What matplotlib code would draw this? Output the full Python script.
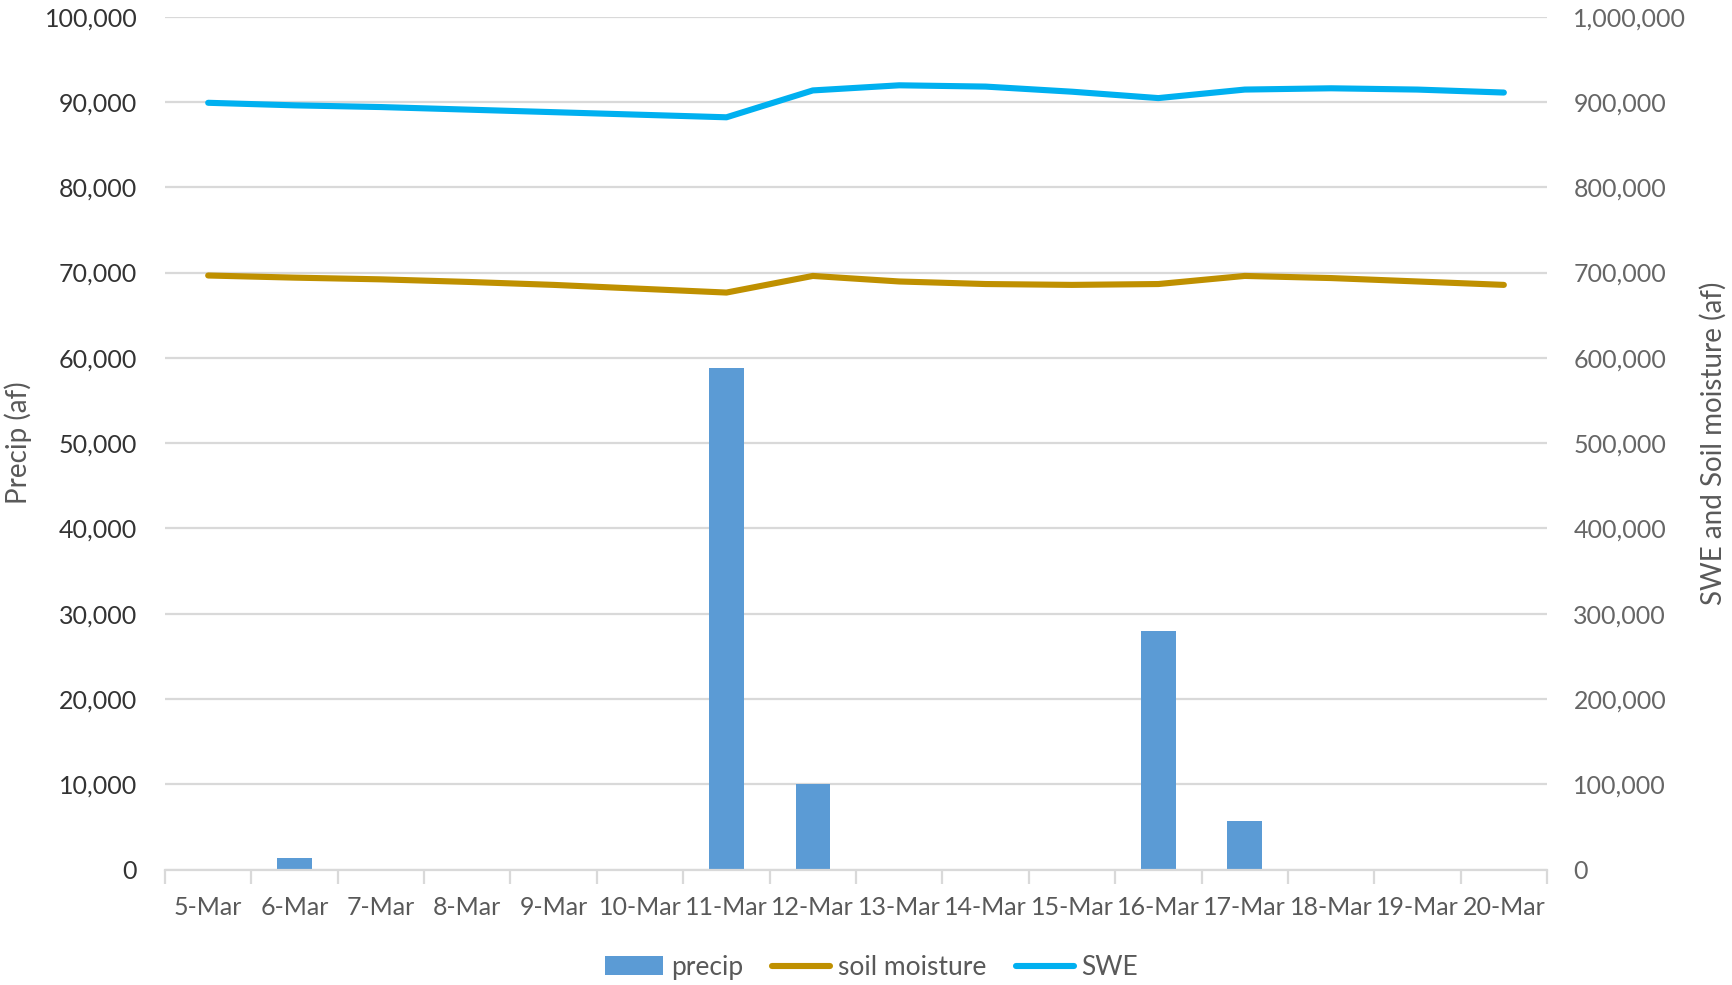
import matplotlib
matplotlib.use("Agg")
import matplotlib.pyplot as plt
from matplotlib.patches import Patch
from matplotlib.lines import Line2D
from matplotlib.ticker import FuncFormatter, MultipleLocator
import numpy as np

dates = ["5-Mar", "6-Mar", "7-Mar", "8-Mar", "9-Mar", "10-Mar", "11-Mar", "12-Mar",
         "13-Mar", "14-Mar", "15-Mar", "16-Mar", "17-Mar", "18-Mar", "19-Mar", "20-Mar"]
precip = [0, 1300, 0, 0, 0, 0, 58800, 10000, 0, 0, 0, 28000, 5700, 0, 0, 0]
soil_moisture = [696500, 694000, 692000, 689000, 685500, 681000, 676500, 696000,
                 689500, 686500, 685500, 686500, 696000, 693500, 689500, 685500]
swe = [899000, 896000, 894000, 891000, 888000, 885000, 882000, 913500,
       919500, 918000, 912000, 904500, 914500, 916000, 914500, 911000]

plt.rcParams['font.family'] = ['Lato', 'DejaVu Sans']

BAR_C = "#5B9BD5"
SOIL_C = "#BF9000"
SWE_C = "#00B0F0"
GRID_C = "#D9D9D9"
TXT_C = "#595959"

fig = plt.figure(figsize=(17.33, 9.85), dpi=100)
ax = fig.add_axes([0.0952, 0.1172, 0.7975, 0.8659])
ax2 = ax.twinx()

x = np.arange(len(dates))
ax.bar(x, precip, width=0.4, color=BAR_C, zorder=2)
ax2.plot(x, soil_moisture, color=SOIL_C, lw=4.4, solid_capstyle='round', solid_joinstyle='round')
ax2.plot(x, swe, color=SWE_C, lw=4.4, solid_capstyle='round', solid_joinstyle='round')

ax.set_xlim(-0.5, len(dates) - 0.5)
ax.set_ylim(0, 100000)
ax2.set_ylim(0, 1000000)
ax.yaxis.set_major_locator(MultipleLocator(10000))
ax2.yaxis.set_major_locator(MultipleLocator(100000))
fmt = FuncFormatter(lambda v, p: f"{int(v):,}")
ax.yaxis.set_major_formatter(fmt)
ax2.yaxis.set_major_formatter(fmt)

ax.grid(axis='y', color=GRID_C, lw=1.6, zorder=0)
ax.set_axisbelow(True)

for a in (ax, ax2):
    for s in ('top', 'left', 'right', 'bottom'):
        a.spines[s].set_visible(False)
ax.spines['bottom'].set_visible(True)
ax.spines['bottom'].set_color(GRID_C)
ax.spines['bottom'].set_linewidth(1.6)

ax.set_xticks(x)
ax.set_xticklabels(dates)
ax.set_xticks(np.arange(-0.5, len(dates)), minor=True)
ax.tick_params(axis='x', which='major', length=0, pad=19, labelsize=18, labelcolor=TXT_C)
ax.tick_params(axis='x', which='minor', length=10, width=1.6, color=GRID_C)
ax.tick_params(axis='y', length=0, pad=20, labelsize=18, labelcolor="#333333")
ax2.tick_params(axis='y', length=0, pad=19, labelsize=18, labelcolor="#666666")

ax.set_ylabel("Precip (af)", fontsize=20, color=TXT_C, labelpad=9)
ax2.set_ylabel("SWE and Soil moisture (af)", fontsize=20, color=TXT_C, labelpad=10)

handles = [Patch(facecolor=BAR_C, edgecolor='none'),
           Line2D([], [], color=SOIL_C, lw=4.4, solid_capstyle='round'),
           Line2D([], [], color=SWE_C, lw=4.4, solid_capstyle='round')]
fig.legend(handles, ["precip", "soil moisture", "SWE"], loc='center',
           bbox_to_anchor=(0.503, 0.018), ncol=3, frameon=False, fontsize=19,
           handlelength=2.2, handleheight=0.7, handletextpad=0.3, columnspacing=1.1,
           labelcolor=TXT_C)

fig.savefig("out.png", dpi=100)
